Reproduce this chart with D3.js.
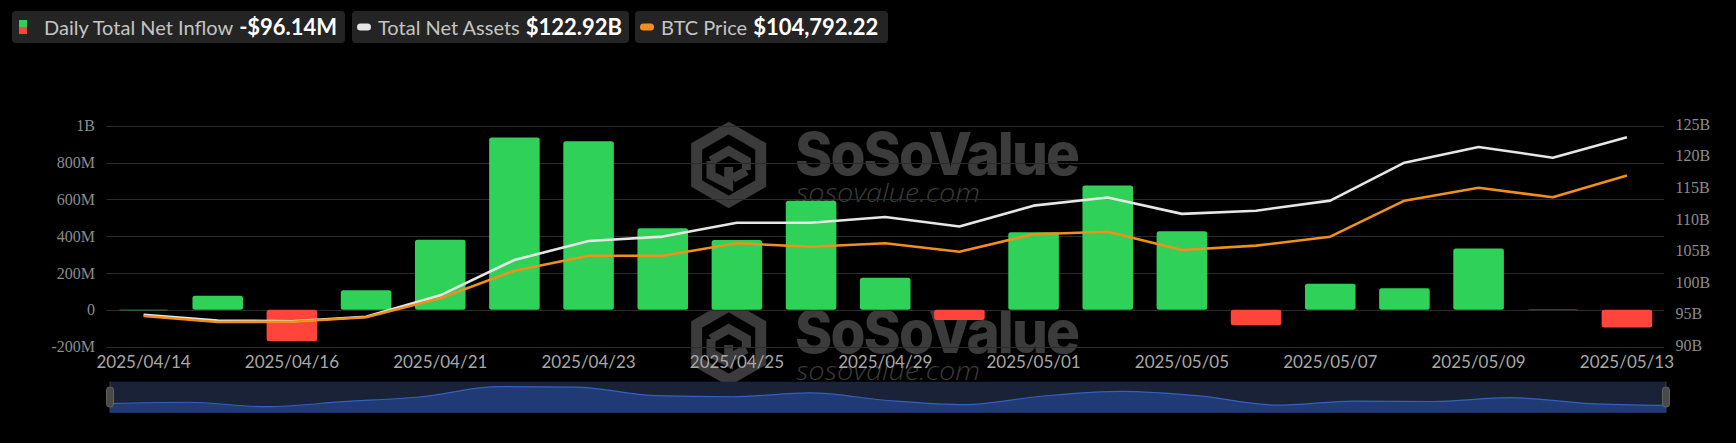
<!DOCTYPE html>
<html>
<head>
<meta charset="utf-8">
<script src="https://cdn.jsdelivr.net/npm/d3@7/dist/d3.min.js"></script>
<style>
  html, body { margin: 0; padding: 0; background: #000; }
  svg { display: block; }
</style>
</head>
<body>
<svg id="chart" width="1736" height="443"></svg>
<script>
// ---------------- DATA ----------------
const dates = ["2025/04/14","2025/04/15","2025/04/16","2025/04/17","2025/04/21","2025/04/22","2025/04/23",
  "2025/04/24","2025/04/25","2025/04/28","2025/04/29","2025/04/30","2025/05/01","2025/05/02",
  "2025/05/05","2025/05/06","2025/05/07","2025/05/08","2025/05/09","2025/05/12","2025/05/13"];
// Daily total net inflow, millions USD
const netInflow = [1.5, 77, -170, 107, 381, 936, 916, 443, 380, 592, 174, -55, 421, 675, 427, -83, 142, 118, 333, 5, -96.14];
// Total net assets, billions USD
const totalNetAssets = [94.8, 93.9, 93.8, 94.5, 97.9, 103.5, 106.5, 107.2, 109.4, 109.4, 110.3, 108.8, 112.1, 113.4,
  110.8, 111.3, 112.9, 118.9, 121.4, 119.7, 122.92];
// BTC price, USD
const btcPrice = [84450, 83580, 83620, 84260, 87010, 91000, 93180, 93180, 94970, 94480, 94970, 93760, 96280, 96650,
  94000, 94630, 95930, 101140, 103020, 101630, 104792.22];
const leftTicks = [-200, 0, 200, 400, 600, 800, 1000];
const leftTickLabels = ["-200M", "0", "200M", "400M", "600M", "800M", "1B"];
const rightTicks = [90, 95, 100, 105, 110, 115, 120, 125];
const xTickEvery = 2;
const legendItems = [
  { label: "Daily Total Net Inflow", value: "-$96.14M", type: "bar" },
  { label: "Total Net Assets", value: "$122.92B", type: "white" },
  { label: "BTC Price", value: "$104,792.22", type: "orange" }
];

// ---------------- STYLE ----------------
const C = {
  green: "#30d158", red: "#ff453a", white: "#e6e6e6", orange: "#f0901c",
  grid: "#2c2c2c", axisText: "#8c8c8c", xText: "#a8a8a8",
  legendBg: "#242424", legendLabel: "#c4c4c4", legendValue: "#ffffff",
  wm: "#3b3b3b"
};

const svg = d3.select("#chart");
const plot = { left: 106.5, right: 1664, top: 125.7, bottom: 346.7 };

const x = d3.scaleBand().domain(dates).range([plot.left, plot.right]).padding(0);
const cx = d => x(d) + x.bandwidth() / 2;
const barW = x.bandwidth() * 0.682;
const yL = d3.scaleLinear().domain([-200, 1000]).range([plot.bottom, plot.top]);
const yR = d3.scaleLinear().domain([90, 125]).range([plot.bottom - 1.5, plot.top - 1.5]);
const yP = d3.scaleLinear().domain([80000, 112000]).range([plot.bottom, plot.top]);

// ---------------- WATERMARKS ----------------
function watermark(g, dy) {
  const w = g.append("g").attr("transform", `translate(0,${dy})`);
  const hx = 728.7, hy = 165, R = 37;
  const hex = d3.range(6).map(i => {
    const a = Math.PI / 180 * (60 * i - 90);
    return [hx + R * Math.cos(a), hy + R * Math.sin(a)];
  });
  w.append("path").attr("d", d3.line()(hex) + "Z")
    .attr("fill", "none").attr("stroke", C.wm).attr("stroke-width", 11).attr("stroke-linejoin", "miter");
  const s = R * 0.55;
  w.append("path")
    .attr("d", `M${hx - s * 0.87},${hy - s * 0.2} L${hx},${hy - s * 0.7} L${hx + s * 0.87},${hy - s * 0.2} L${hx + s * 0.87},${hy + s * 0.25}
                M${hx - s * 0.87},${hy - s * 0.2} L${hx - s * 0.87},${hy + s * 0.5} L${hx},${hy + s * 0.95} L${hx},${hy + s * 0.1}
                M${hx + s * 0.2},${hy + s * 0.65} L${hx + s * 0.87},${hy + s * 0.3}`)
    .attr("fill", "none").attr("stroke", C.wm).attr("stroke-width", 9).attr("stroke-linejoin", "miter");
  w.append("text").attr("x", 795).attr("y", 175)
    .attr("font-family", "Inter, 'Open Sans', sans-serif").attr("font-weight", 800).attr("font-size", 59)
    .attr("textLength", 283).attr("lengthAdjust", "spacingAndGlyphs")
    .attr("letter-spacing", -2)
    .attr("fill", C.wm).text("SoSoValue");
  w.append("text").attr("x", 796).attr("y", 202)
    .attr("font-family", "'Open Sans', sans-serif").attr("font-style", "italic").attr("font-weight", 300).attr("font-size", 26)
    .attr("textLength", 184).attr("lengthAdjust", "spacingAndGlyphs")
    .attr("fill", C.wm).text("sosovalue.com");
}
const wmG = svg.append("g");
watermark(wmG, 0);
watermark(wmG, 178);

// ---------------- GRID + AXES ----------------
const gridG = svg.append("g");
gridG.selectAll("line").data(leftTicks).join("line")
  .attr("x1", plot.left).attr("x2", plot.right)
  .attr("y1", d => Math.round(yL(d)) + 0.5).attr("y2", d => Math.round(yL(d)) + 0.5)
  .attr("stroke", C.grid).attr("stroke-width", 1);

const leftAxis = d3.axisLeft(yL).tickValues(leftTicks)
  .tickFormat(d => leftTickLabels[leftTicks.indexOf(d)]).tickSize(0).tickPadding(0);
svg.append("g").attr("transform", `translate(95,0)`).call(leftAxis)
  .call(g => g.select(".domain").remove())
  .selectAll("text").attr("font-family", "'Liberation Serif', 'Times New Roman', serif")
  .attr("font-size", 16).attr("fill", C.axisText);

const rightAxis = d3.axisRight(yR).tickValues(rightTicks).tickFormat(d => d + "B").tickSize(0).tickPadding(0);
svg.append("g").attr("transform", `translate(1675.5,0)`).call(rightAxis)
  .call(g => g.select(".domain").remove())
  .selectAll("text").attr("font-family", "'Liberation Serif', 'Times New Roman', serif")
  .attr("font-size", 16).attr("fill", C.axisText);

const xAxis = d3.axisBottom(x).tickValues(dates.filter((d, i) => i % xTickEvery === 0)).tickSize(0).tickPadding(0);
svg.append("g").attr("transform", `translate(0,356)`).call(xAxis)
  .call(g => g.select(".domain").remove())
  .selectAll("text").attr("font-family", "Lato, sans-serif").attr("font-size", 17).attr("fill", C.xText);

// ---------------- BARS ----------------
svg.append("g").selectAll("rect").data(dates).join("rect")
  .attr("x", d => cx(d) - barW / 2)
  .attr("width", barW)
  .attr("y", (d, i) => Math.min(yL(netInflow[i]), yL(0)))
  .attr("height", (d, i) => Math.max(Math.abs(yL(netInflow[i]) - yL(0)), 0.8))
  .attr("rx", 2.5)
  .attr("fill", (d, i) => netInflow[i] >= 0 ? C.green : C.red)
  .attr("opacity", (d, i) => Math.abs(netInflow[i]) < 10 ? 0.55 : 1);

// ---------------- LINES ----------------
svg.append("path").datum(dates)
  .attr("d", d3.line().x(d => cx(d)).y((d, i) => yR(totalNetAssets[i])))
  .attr("fill", "none").attr("stroke", C.white).attr("stroke-width", 2.6).attr("stroke-linejoin", "round");
svg.append("path").datum(dates)
  .attr("d", d3.line().x(d => cx(d)).y((d, i) => yP(btcPrice[i])))
  .attr("fill", "none").attr("stroke", C.orange).attr("stroke-width", 2.6).attr("stroke-linejoin", "round");

// ---------------- DATA ZOOM ----------------
const dz = { left: 110, right: 1666, top: 381.7, bottom: 412.7 };
svg.append("rect").attr("x", dz.left).attr("y", dz.top).attr("width", dz.right - dz.left).attr("height", dz.bottom - dz.top)
  .attr("fill", "#1a2238");
const dzX = d3.scalePoint().domain(dates).range([dz.left, dz.right]);
const dzY = d3.scaleLinear().domain([-500, 1210]).range([dz.bottom, dz.top]);
svg.append("path").datum(dates)
  .attr("d", d3.area().x(d => dzX(d)).y0(dz.bottom).y1((d, i) => dzY(netInflow[i])).curve(d3.curveMonotoneX))
  .attr("fill", "#1f3a74");
svg.append("path").datum(dates)
  .attr("d", d3.line().x(d => dzX(d)).y((d, i) => dzY(netInflow[i])).curve(d3.curveMonotoneX))
  .attr("fill", "none").attr("stroke", "#3560c0").attr("stroke-width", 1.2);
[dz.left, dz.right].forEach(hx => {
  svg.append("line").attr("x1", hx).attr("x2", hx).attr("y1", dz.top).attr("y2", dz.bottom)
    .attr("stroke", "#3a3f4a").attr("stroke-width", 1);
  svg.append("rect").attr("x", hx - 3.5).attr("y", 387).attr("width", 7).attr("height", 20).attr("rx", 3)
    .attr("fill", "#4a4a4a").attr("stroke", "#6a6a6a").attr("stroke-width", 0.8);
});

// ---------------- LEGEND ----------------
const boxes = [ { x: 12, w: 333 }, { x: 352, w: 277 }, { x: 635, w: 253 } ];
const lg = svg.append("g");
legendItems.forEach((it, i) => {
  const b = boxes[i];
  const g = lg.append("g");
  g.append("rect").attr("x", b.x).attr("y", 11).attr("width", b.w).attr("height", 32).attr("rx", 4).attr("fill", C.legendBg);
  let tx;
  if (it.type === "bar") {
    g.append("rect").attr("x", b.x + 7).attr("y", 20).attr("width", 8).attr("height", 7).attr("fill", C.green);
    g.append("rect").attr("x", b.x + 7).attr("y", 27).attr("width", 8).attr("height", 7).attr("fill", C.red);
    tx = b.x + 32;
  } else {
    g.append("rect").attr("x", b.x + 5).attr("y", 23.5).attr("width", 14).attr("height", 7).attr("rx", 3.5)
      .attr("fill", it.type === "white" ? C.white : C.orange);
    tx = b.x + 26;
  }
  const t = g.append("text").attr("x", tx).attr("y", 34.5).attr("font-family", "Lato, sans-serif");
  t.append("tspan").attr("font-size", 20).attr("fill", C.legendLabel).text(it.label);
  t.append("tspan").attr("dx", 6).attr("font-size", 22).attr("font-weight", 700).attr("fill", C.legendValue).text(it.value);
});
</script>
</body>
</html>
